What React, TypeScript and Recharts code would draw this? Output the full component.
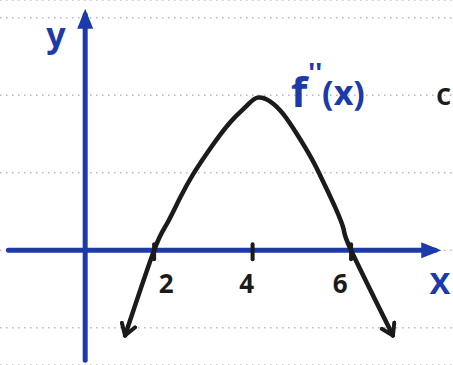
import React from 'react';
import { LineChart, Line, XAxis, YAxis, CartesianGrid, ReferenceDot } from 'recharts';

// f''(x): a downward parabola with roots at x = 2 and x = 6, peak near x = 4
const curveX = [1.41, 2.0, 2.25, 2.53, 2.79, 3.08, 3.34, 3.6, 3.89, 4.1, 4.36, 4.62, 4.9, 5.21, 5.43, 5.68, 5.85, 6.0, 6.85];
const curveY = [-1.1, 0, 0.33, 0.68, 0.98, 1.26, 1.49, 1.69, 1.87, 1.97, 1.92, 1.76, 1.5, 1.17, 0.89, 0.55, 0.27, 0, -1.1];

// x-axis tick marks and their labels
const tickValues = [2, 4, 6];
const tickLabels = ['2', '4', '6'];

// dotted horizontal guide levels
const gridLevels = [-1, 0, 1, 2, 3];

// visible window and axis extents (data units)
const xRange = [-1.13, 8.07];
const yRange = [-1.48, 3.23];
const yAxisAt = 0.6;
const xAxisSpan = [-0.96, 7.71];
const yAxisSpan = [-1.42, 3.04];

const BLUE = '#1c3aa9';
const INK = '#1b1b1b';
const FONT = "'Noto Sans', sans-serif";
const W = 453;
const H = 365;

const curveData = curveX.map((x, i) => ({ x, y: curveY[i] }));
const xAxisData = xAxisSpan.map((x) => ({ x, y: 0 }));
const yAxisData = yAxisSpan.map((y) => ({ x: yAxisAt, y }));

const labelShift: Record<string, number> = { '2': 12, '4': -6, '6': -11 };

const TickMark = (props: any) => {
  const { cx, cy, label } = props;
  return (
    <g>
      <line x1={cx} y1={cy - 6} x2={cx} y2={cy + 9} stroke={INK} strokeWidth={4} strokeLinecap="round" />
      <text
        x={cx + labelShift[label]}
        y={cy + 43}
        textAnchor="middle"
        fontFamily={FONT}
        fontWeight={700}
        fontSize={26}
        fill={INK}
      >
        {label}
      </text>
    </g>
  );
};

export default function App() {
  return (
    <div style={{ position: 'absolute', left: 0, top: 0, width: W, height: H, background: '#fff' }}>
      <LineChart width={W} height={H} margin={{ top: 0, right: 0, bottom: 0, left: 0 }}>
        <defs>
          <marker id="axisArrow" viewBox="0 0 20 18" markerWidth={20} markerHeight={18} refX={14} refY={9} orient="auto" markerUnits="userSpaceOnUse">
            <path d="M0,1 L20,9 L0,17 Z" fill={BLUE} />
          </marker>
          <marker id="curveArrow" viewBox="0 0 16 18" markerWidth={16} markerHeight={18} refX={13} refY={9} orient="auto-start-reverse" markerUnits="userSpaceOnUse">
            <path d="M2,2 L13,9 L2,16" fill="none" stroke={INK} strokeWidth={4} strokeLinecap="round" strokeLinejoin="round" />
          </marker>
        </defs>
        <XAxis type="number" dataKey="x" domain={xRange} hide allowDataOverflow />
        <YAxis type="number" dataKey="y" domain={yRange} ticks={gridLevels} hide allowDataOverflow />
        <CartesianGrid vertical={false} stroke="#b8b8b8" strokeDasharray="1.5 4.5" strokeWidth={1.5} />
        <Line
          data={xAxisData}
          dataKey="y"
          type="linear"
          stroke={BLUE}
          strokeWidth={5}
          strokeLinecap="round"
          dot={false}
          activeDot={false}
          isAnimationActive={false}
          markerEnd="url(#axisArrow)"
        />
        <Line
          data={yAxisData}
          dataKey="y"
          type="linear"
          stroke={BLUE}
          strokeWidth={5}
          strokeLinecap="round"
          dot={false}
          activeDot={false}
          isAnimationActive={false}
          markerEnd="url(#axisArrow)"
        />
        <Line
          data={curveData}
          dataKey="y"
          type="natural"
          stroke={INK}
          strokeWidth={4.5}
          strokeLinecap="round"
          dot={false}
          activeDot={false}
          isAnimationActive={false}
          markerStart="url(#curveArrow)"
          markerEnd="url(#curveArrow)"
        />
        {tickValues.map((v, i) => (
          <ReferenceDot
            key={v}
            x={v}
            y={0}
            r={0}
            ifOverflow="visible"
            shape={(p: any) => <TickMark {...p} label={tickLabels[i]} />}
          />
        ))}
        <text x={56} y={47} textAnchor="middle" fontFamily={FONT} fontWeight={700} fontSize={34} fill={BLUE}>
          y
        </text>
        <text x={440} y={294} textAnchor="middle" fontFamily={FONT} fontWeight={600} fontSize={38} fill={BLUE}>
          x
        </text>
        <text x={291} y={107} fontFamily={FONT} fontWeight={700} fill={BLUE}>
          <tspan fontSize={42}>f</tspan>
          <tspan fontSize={26} dx={1} dy={-25}>''</tspan>
          <tspan fontSize={34} dx={0} dy={23}>(x)</tspan>
        </text>
        <text x={436} y={105} fontFamily={FONT} fontWeight={600} fontSize={30} fill={INK}>
          c
        </text>
      </LineChart>
    </div>
  );
}
